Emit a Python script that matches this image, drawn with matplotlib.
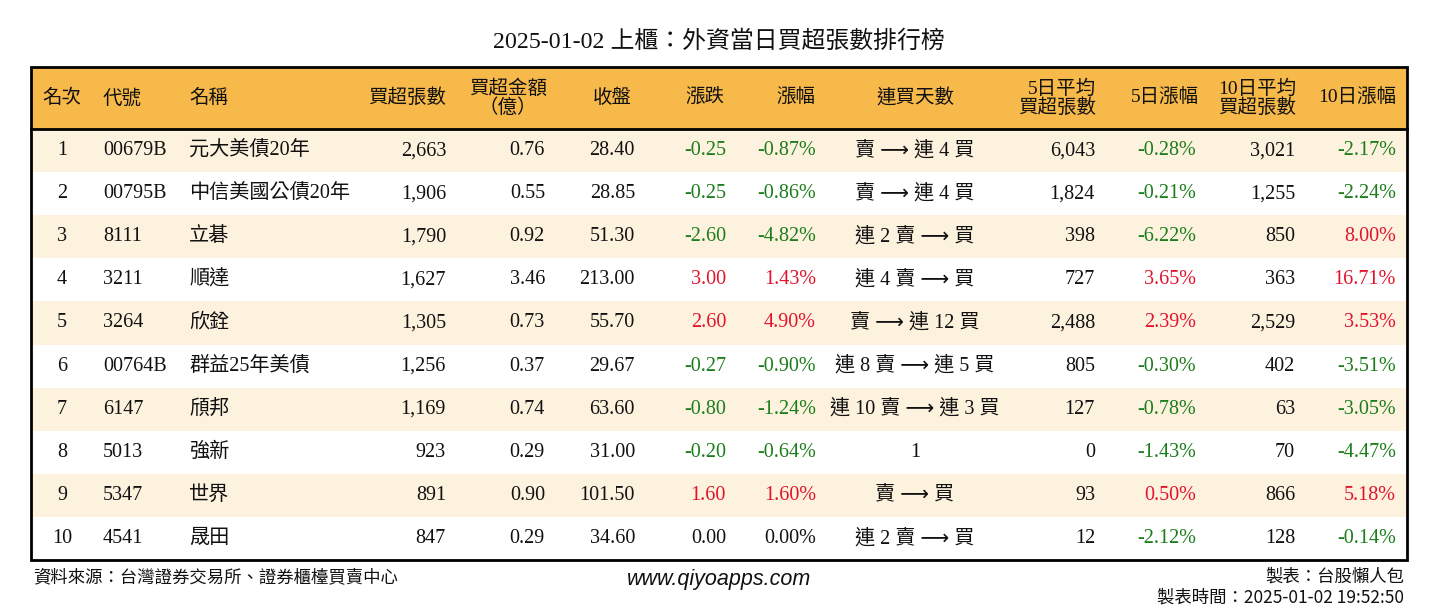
import matplotlib
matplotlib.use("Agg")
import matplotlib.pyplot as plt
from matplotlib.patches import Rectangle

plt.rcParams['font.family'] = ['Liberation Serif', 'Noto Sans CJK TC', 'DejaVu Sans']

title = "2025-01-02 上櫃：外資當日買超張數排行榜"
headers = ['名次', '代號', '名稱', '買超張數', '買超金額\n（億）', '收盤', '漲跌', '漲幅',
           '連買天數', '5日平均\n買超張數', '5日漲幅', '10日平均\n買超張數', '10日漲幅']
ranks = [1, 2, 3, 4, 5, 6, 7, 8, 9, 10]
codes = ['00679B', '00795B', '8111', '3211', '3264', '00764B', '6147', '5013', '5347', '4541']
names = ['元大美債20年', '中信美國公債20年', '立碁', '順達', '欣銓', '群益25年美債', '頎邦', '強新', '世界', '晟田']
buy_vol = [2663, 1906, 1790, 1627, 1305, 1256, 1169, 923, 891, 847]
buy_amt = [0.76, 0.55, 0.92, 3.46, 0.73, 0.37, 0.74, 0.29, 0.90, 0.29]
close = [28.40, 28.85, 51.30, 213.00, 55.70, 29.67, 63.60, 31.00, 101.50, 34.60]
change = [-0.25, -0.25, -2.60, 3.00, 2.60, -0.27, -0.80, -0.20, 1.60, 0.00]
pct = [-0.87, -0.86, -4.82, 1.43, 4.90, -0.90, -1.24, -0.64, 1.60, 0.00]
streak = ['賣 ⟶ 連 4 買', '賣 ⟶ 連 4 買', '連 2 賣 ⟶ 買', '連 4 賣 ⟶ 買', '賣 ⟶ 連 12 買',
          '連 8 賣 ⟶ 連 5 買', '連 10 賣 ⟶ 連 3 買', '1', '賣 ⟶ 買', '連 2 賣 ⟶ 買']
avg5 = [6043, 1824, 398, 727, 2488, 805, 127, 0, 93, 12]
pct5 = [-0.28, -0.21, -6.22, 3.65, 2.39, -0.30, -0.78, -1.43, 0.50, -2.12]
avg10 = [3021, 1255, 850, 363, 2529, 402, 63, 70, 866, 128]
pct10 = [-2.17, -2.24, 8.00, 16.71, 3.53, -3.51, -3.05, -4.47, 5.18, -0.14]

W, H = 1438, 612
fig = plt.figure(figsize=(W / 100, H / 100), dpi=100)
ax = fig.add_axes([0, 0, 1, 1])
ax.set_xlim(0, W)
ax.set_ylim(H, 0)
ax.axis('off')

GREEN = '#1b7d1b'
RED = '#e3132d'
BLACK = '#111111'
HEAD_BG = '#f7b94a'
CREAM = '#fdf2de'

x0, x1 = 31, 1407
y_top, y_head = 67, 129
row_h = 43.1

ax.add_patch(Rectangle((x0, y_top), x1 - x0, y_head - y_top, facecolor=HEAD_BG, edgecolor='none'))
for i in range(len(ranks)):
    if i % 2 == 0:
        ax.add_patch(Rectangle((x0, y_head + i * row_h), x1 - x0, row_h, facecolor=CREAM, edgecolor='none'))
y_bot = y_head + len(ranks) * row_h
ax.add_patch(Rectangle((x0, y_top), x1 - x0, y_bot - y_top, facecolor='none', edgecolor='black', lw=2))
ax.plot([x0, x1], [y_head, y_head], color='black', lw=2)

head_pos = [(62, 'center'), (103, 'left'), (189, 'left'), (446, 'right'), (508, 'center'),
            (612, 'center'), (705, 'center'), (796, 'center'), (915, 'center'),
            (1096, 'right'), (1165, 'center'), (1296, 'right'), (1357, 'center')]
for h, (x, ha) in zip(headers, head_pos):
    ax.text(x, 98, h, ha=ha, va='center', fontsize=14, color=BLACK, linespacing=1.0,
            multialignment='center' if ha == 'center' else 'right')

def col(v):
    if v > 0:
        return RED
    if v < 0:
        return GREEN
    return BLACK

for i in range(len(ranks)):
    y = y_head + (i + 0.5) * row_h
    kw = dict(va='center', fontsize=14.5)
    ax.text(62, y, str(ranks[i]), ha='center', color=BLACK, **kw)
    ax.text(103, y, codes[i], ha='left', color=BLACK, **kw)
    ax.text(189, y, names[i], ha='left', color=BLACK, **kw)
    ax.text(446, y, f"{buy_vol[i]:,}", ha='right', color=BLACK, **kw)
    ax.text(545, y, f"{buy_amt[i]:.2f}", ha='right', color=BLACK, **kw)
    ax.text(635, y, f"{close[i]:.2f}", ha='right', color=BLACK, **kw)
    ax.text(726, y, f"{change[i]:.2f}", ha='right', color=col(change[i]), **kw)
    ax.text(816, y, f"{pct[i]:.2f}%", ha='right', color=col(pct[i]), **kw)
    ax.text(915, y, streak[i], ha='center', color=BLACK,
            family=['Liberation Serif', 'DejaVu Sans', 'Noto Sans CJK TC'], **kw)
    ax.text(1095, y, f"{avg5[i]:,}", ha='right', color=BLACK, **kw)
    ax.text(1196, y, f"{pct5[i]:.2f}%", ha='right', color=col(pct5[i]), **kw)
    ax.text(1295, y, f"{avg10[i]:,}", ha='right', color=BLACK, **kw)
    ax.text(1396, y, f"{pct10[i]:.2f}%", ha='right', color=col(pct10[i]), **kw)

ax.text(719, 42, title, ha='center', va='center', fontsize=17.2, color=BLACK)
foot_fam = ['Noto Sans CJK TC', 'DejaVu Sans']
ax.text(33, 577, "資料來源：台灣證券交易所、證券櫃檯買賣中心", ha='left', va='center', fontsize=12.5,
        color=BLACK, family=foot_fam)
ax.text(719, 580, "www.qiyoapps.com", ha='center', va='center', fontsize=15.5, color=BLACK,
        family=['Liberation Sans'], style='italic')
ax.text(1404, 577, "製表：台股懶人包", ha='right', va='center', fontsize=12.5, color=BLACK, family=foot_fam)
ax.text(1404, 598, "製表時間：2025-01-02 19:52:50", ha='right', va='center', fontsize=12.5, color=BLACK,
        family=foot_fam)

fig.savefig("out.png", dpi=100)
